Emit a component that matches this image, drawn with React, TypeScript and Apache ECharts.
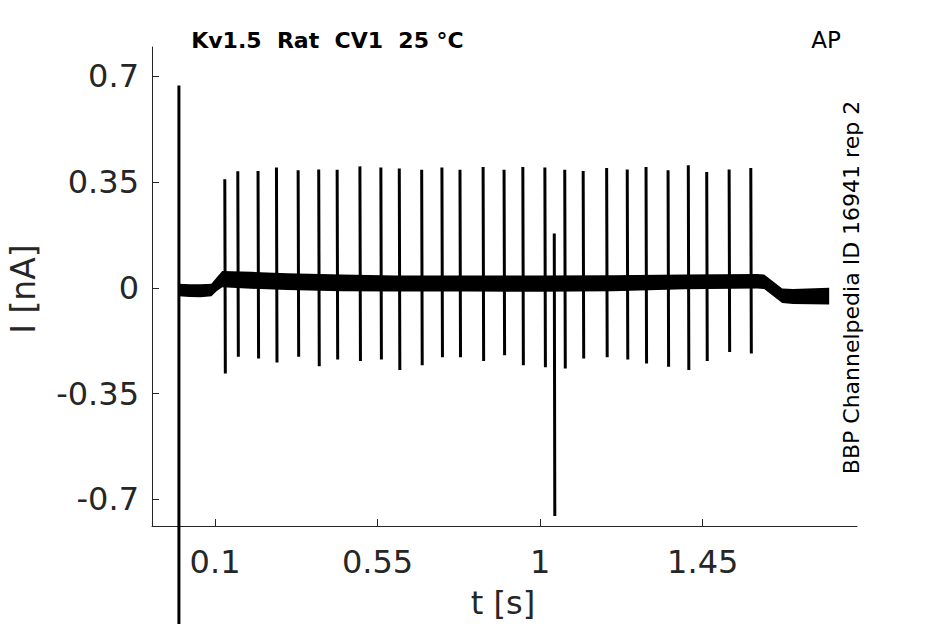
import React, { useEffect, useRef } from "react";
import * as echarts from "echarts";

// Spike (action-potential) times [s], peak and trough currents [nA]
const spikeT = [0.127, 0.163, 0.219, 0.27, 0.33, 0.387, 0.438, 0.501, 0.559, 0.61, 0.672, 0.728, 0.778, 0.842, 0.9, 0.952, 1.013, 1.039, 1.068, 1.119, 1.184, 1.241, 1.293, 1.354, 1.41, 1.461, 1.523, 1.583];
const spikePeak = [0.359, 0.386, 0.387, 0.398, 0.389, 0.392, 0.391, 0.402, 0.398, 0.395, 0.391, 0.398, 0.391, 0.4, 0.391, 0.4, 0.398, 0.18, 0.391, 0.387, 0.397, 0.392, 0.4, 0.389, 0.406, 0.383, 0.392, 0.397];
const spikeTrough = [-0.283, -0.228, -0.234, -0.247, -0.228, -0.259, -0.237, -0.242, -0.237, -0.272, -0.256, -0.23, -0.23, -0.242, -0.223, -0.256, -0.263, -0.755, -0.267, -0.234, -0.23, -0.237, -0.25, -0.261, -0.272, -0.242, -0.212, -0.217];

// Capacitive transient at stimulus onset
const onsetT = 0.0;
const onsetPeak = 0.67;
const onsetTrough = -1.5;

// Baseline noise band (upper / lower envelope) [nA]
const bandT = [0.0, 0.03, 0.06, 0.09, 0.105, 0.12, 0.2, 0.3, 0.45, 0.6, 0.8, 1.0, 1.2, 1.4, 1.6, 1.62, 1.67, 1.7, 1.8];
const bandHi = [0.014, 0.012, 0.012, 0.014, 0.035, 0.056, 0.053, 0.048, 0.044, 0.041, 0.041, 0.041, 0.042, 0.044, 0.046, 0.044, -0.002, -0.004, 0.0];
const bandLo = [-0.028, -0.03, -0.031, -0.028, -0.01, 0.002, -0.003, -0.007, -0.011, -0.012, -0.012, -0.013, -0.011, -0.005, -0.002, -0.004, -0.05, -0.053, -0.055];

// Axis ticks
const xTicks = [0.1, 0.55, 1, 1.45];
const xTickLabels = ["0.1", "0.55", "1", "1.45"];
const yTicks = [-0.7, -0.35, 0, 0.35, 0.7];
const yTickLabels = ["-0.7", "-0.35", "0", "0.35", "0.7"];

const FONT = "DejaVu Sans";
const AXIS_COLOR = "#262626";

export default function App() {
  const ref = useRef<HTMLDivElement>(null);

  useEffect(() => {
    if (!ref.current) return;
    const chart = echarts.init(ref.current, undefined, { renderer: "svg" });

    const spikeData: any[] = [];
    spikeData.push([onsetT, onsetPeak]);
    spikeData.push([onsetT, onsetTrough]);
    spikeData.push([onsetT, null]);
    for (let i = 0; i < spikeT.length; i++) {
      spikeData.push([spikeT[i], spikePeak[i]]);
      spikeData.push([spikeT[i] + 0.0015, spikeTrough[i]]);
      spikeData.push([spikeT[i] + 0.0015, null]);
    }

    const xLabelMap: Record<string, string> = {};
    xTicks.forEach((v, i) => (xLabelMap[String(v)] = xTickLabels[i]));
    const yLabelMap: Record<string, string> = {};
    yTicks.forEach((v, i) => (yLabelMap[String(v)] = yTickLabels[i]));

    const option: any = {
      animation: false,
      backgroundColor: "#ffffff",
      grid: { left: 152, right: 88, top: 47, bottom: 98, containLabel: false },
      xAxis: {
        type: "value",
        min: -0.0745,
        max: 1.877,
        axisLine: { show: true, onZero: false, lineStyle: { color: AXIS_COLOR, width: 1 } },
        axisTick: { show: true, inside: true, length: 7, customValues: xTicks, lineStyle: { color: AXIS_COLOR } },
        axisLabel: {
          show: true,
          customValues: xTicks,
          margin: 20,
          color: AXIS_COLOR,
          fontFamily: FONT,
          fontSize: 32,
          lineHeight: 32,
          formatter: (v: number) => xLabelMap[String(v)] ?? String(v),
        },
        splitLine: { show: false },
      },
      yAxis: {
        type: "value",
        min: -0.788,
        max: 0.797,
        axisLine: { show: true, onZero: false, lineStyle: { color: AXIS_COLOR, width: 1 } },
        axisTick: { show: true, inside: true, length: 7, customValues: yTicks, lineStyle: { color: AXIS_COLOR } },
        axisLabel: {
          show: true,
          customValues: yTicks,
          margin: 13,
          color: AXIS_COLOR,
          fontFamily: FONT,
          fontSize: 32,
          formatter: (v: number) => yLabelMap[String(v)] ?? String(v),
        },
        splitLine: { show: false },
      },
      series: [
        {
          type: "custom",
          name: "band",
          silent: true,
          data: [[0, 0]],
          encode: { x: 0, y: 1 },
          renderItem: (params: any, api: any) => {
            if (params.dataIndex !== 0) return null;
            const pts: number[][] = [];
            for (let i = 0; i < bandT.length; i++) pts.push(api.coord([bandT[i], bandHi[i]]));
            for (let i = bandT.length - 1; i >= 0; i--) pts.push(api.coord([bandT[i], bandLo[i]]));
            return { type: "polygon", shape: { points: pts }, style: { fill: "#000000" } };
          },
          z: 2,
        },
        {
          type: "line",
          name: "spikes",
          data: spikeData,
          showSymbol: false,
          symbol: "none",
          clip: false,
          connectNulls: false,
          lineStyle: { color: "#000000", width: 3 },
          z: 3,
        },
      ],
      graphic: [
        {
          type: "text",
          x: 327.5,
          y: 40.5,
          style: {
            text: "Kv1.5  Rat  CV1  25 °C",
            fontFamily: FONT,
            fontSize: 22,
            fontWeight: "bold",
            fill: "#000000",
            textAlign: "center",
            textVerticalAlign: "middle",
            align: "center",
            verticalAlign: "middle",
          },
        },
        {
          type: "text",
          x: 826,
          y: 39.5,
          style: {
            text: "AP",
            fontFamily: FONT,
            fontSize: 23,
            fill: "#000000",
            textAlign: "center",
            textVerticalAlign: "middle",
            align: "center",
            verticalAlign: "middle",
          },
        },
        {
          type: "text",
          x: 851,
          y: 287.5,
          rotation: Math.PI / 2,
          style: {
            text: "BBP Channelpedia ID 16941 rep 2",
            fontFamily: FONT,
            fontSize: 22,
            fill: "#000000",
            textAlign: "center",
            textVerticalAlign: "middle",
            align: "center",
            verticalAlign: "middle",
          },
        },
        {
          type: "text",
          x: 23,
          y: 289,
          rotation: Math.PI / 2,
          style: {
            text: "I [nA]",
            fontFamily: FONT,
            fontSize: 33,
            fill: AXIS_COLOR,
            textAlign: "center",
            textVerticalAlign: "middle",
            align: "center",
            verticalAlign: "middle",
          },
        },
        {
          type: "text",
          x: 503,
          y: 603,
          style: {
            text: "t [s]",
            fontFamily: FONT,
            fontSize: 32,
            fill: AXIS_COLOR,
            textAlign: "center",
            textVerticalAlign: "middle",
            align: "center",
            verticalAlign: "middle",
          },
        },
      ],
    };

    chart.setOption(option);
    return () => chart.dispose();
  }, []);

  return (
    <div
      ref={ref}
      style={{ position: "fixed", left: 0, top: 0, width: 945, height: 624, background: "#ffffff" }}
    />
  );
}
